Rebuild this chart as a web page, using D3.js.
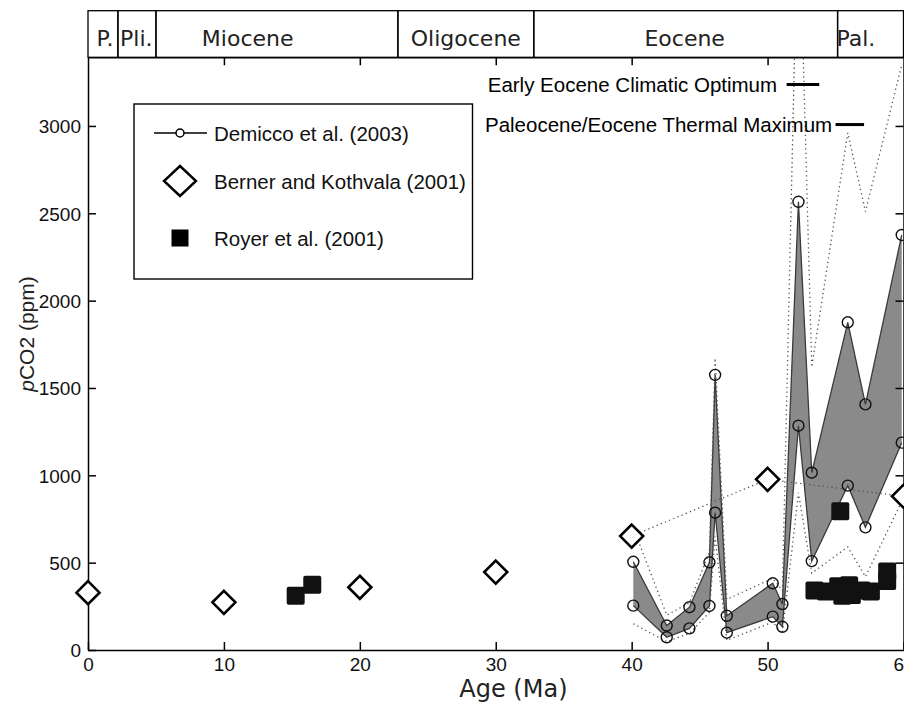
<!DOCTYPE html>
<html>
<head>
<meta charset="utf-8">
<script src="https://cdn.jsdelivr.net/npm/d3@7"></script>
<style>
  body { margin: 0; background: #fff; }
  svg { display: block; }
</style>
</head>
<body>
<div id="chart"></div>
<script>
// ---- data ----
var demiccoAge  = [40.12, 42.58, 44.25, 45.72, 46.14, 47.0, 50.38, 51.09, 52.27, 53.25, 55.9, 57.2, 59.87];
var demiccoHigh = [505, 140, 245, 502, 1575, 196, 382, 263, 2566, 1015, 1876, 1406, 2376];
var demiccoLow  = [254, 73, 124, 252, 786, 99, 191, 133, 1284, 509, 941, 702, 1187];
var envelopeHigh = [700, 200, 270, 560, 1670, 290, 410, 340, 4400, 1620, 2960, 2510, 3350];
var envelopeLow  = [150, 48, 95, 215, 650, 55, 160, 95, 900, 440, 590, 420, 850];

var bernerAge = [0, 10, 20, 30, 40, 50, 60];
var bernerCO2 = [328, 273, 359, 446, 652, 977, 880];

var royerAge = [15.28, 16.5, 55.35, 53.45, 54.3, 55.2, 55.5, 56.0, 56.2, 56.9, 57.6, 58.8, 58.8];
var royerCO2 = [310, 374, 795, 340, 335, 365, 310, 370, 315, 340, 335, 450, 395];

var epochNames    = ["P.", "Pli.", "Miocene", "Oligocene", "Eocene", "Pal."];
var epochStart    = [0, 2.2, 5.0, 22.8, 32.8, 55.15];
var epochEnd      = [2.2, 5.0, 22.8, 32.8, 55.15, 60];
var epochLabelAge = [1.25, 3.55, 11.75, 27.8, 43.9, 56.5];

var eventNames    = ["Early Eocene Climatic Optimum", "Paleocene/Eocene Thermal Maximum"];
var eventStart    = [51.4, 55.0];
var eventEnd      = [53.8, 57.1];
var eventLabelEnd = [50.7, 54.75];
var eventCO2      = [3237, 3008];

var xTicks = [0, 10, 20, 30, 40, 50, 60];
var yTicks = [0, 500, 1000, 1500, 2000, 2500, 3000];

var legendNames = ["Demicco et al. (2003)", "Berner and Kothvala (2001)", "Royer et al. (2001)"];

// ---- setup ----
var W = 904, H = 704;
var margin = { top: 57.3, left: 88, right: 0.5, bottom: 54 };
var svg = d3.select("#chart").append("svg").attr("width", W).attr("height", H);

var x = d3.scaleLinear().domain([0, 60]).range([margin.left, W - margin.right]);
var y = d3.scaleLinear().domain([0, 3393]).range([H - margin.bottom, margin.top]);

var sans = "'Liberation Sans', Arial, sans-serif";
var geo = "'DejaVu Sans', sans-serif";

svg.append("clipPath").attr("id", "plotClip")
  .append("rect")
  .attr("x", x(0)).attr("y", y(3393))
  .attr("width", x(60) - x(0)).attr("height", y(0) - y(3393));

var plot = svg.append("g").attr("clip-path", "url(#plotClip)");

// build row tables from arrays
var demicco = demiccoAge.map(function(a, i) {
  return { age: a, hi: demiccoHigh[i], lo: demiccoLow[i], eh: envelopeHigh[i], el: envelopeLow[i] };
});
var berner = bernerAge.map(function(a, i) { return { age: a, co2: bernerCO2[i] }; });
var royer = royerAge.map(function(a, i) { return { age: a, co2: royerCO2[i] }; });

// shaded Demicco band
var band = d3.area().x(d => x(d.age)).y0(d => y(d.lo)).y1(d => y(d.hi));
plot.append("path").datum(demicco)
  .attr("d", band)
  .style("fill", "#8a8a8a")
  .style("stroke", "none");

["hi", "lo"].forEach(function(k) {
  plot.append("path").datum(demicco)
    .attr("d", d3.line().x(d => x(d.age)).y(d => y(d[k])))
    .style("fill", "none")
    .style("stroke", "#3a3a3a")
    .style("stroke-width", 1.3);
});

// dotted envelopes
["eh", "el"].forEach(function(k) {
  plot.append("path").datum(demicco)
    .attr("d", d3.line().x(d => x(d.age)).y(d => y(d[k])))
    .style("fill", "none")
    .style("stroke", "#555")
    .style("stroke-width", 1.3)
    .style("stroke-dasharray", "1.3,3.2");
});

// dotted Berner link over the Eocene part
plot.append("path").datum(berner.filter(d => d.age >= 40))
  .attr("d", d3.line().x(d => x(d.age)).y(d => y(d.co2)))
  .style("fill", "none")
  .style("stroke", "#555")
  .style("stroke-width", 1.3)
  .style("stroke-dasharray", "1.3,3.2");

// Demicco circles
["hi", "lo"].forEach(function(k) {
  plot.selectAll("circle." + k).data(demicco).enter().append("circle")
    .attr("class", k)
    .attr("cx", d => x(d.age)).attr("cy", d => y(d[k]))
    .attr("r", 5.5)
    .style("fill", "none")
    .style("stroke", "#111")
    .style("stroke-width", 1.4);
});

// Royer squares
var sq = 18;
plot.selectAll("rect.royer").data(royer).enter().append("rect")
  .attr("class", "royer")
  .attr("x", d => x(d.age) - sq / 2).attr("y", d => y(d.co2) - sq / 2)
  .attr("width", sq).attr("height", sq)
  .attr("rx", 2)
  .style("fill", "#111");

// event annotations
eventNames.forEach(function(name, i) {
  svg.append("line")
    .attr("x1", x(eventStart[i])).attr("x2", x(eventEnd[i]))
    .attr("y1", y(eventCO2[i])).attr("y2", y(eventCO2[i]))
    .style("stroke", "#000").style("stroke-width", 3);
  svg.append("text")
    .attr("x", x(eventLabelEnd[i])).attr("y", y(eventCO2[i]) + 7.5)
    .attr("text-anchor", "end")
    .style("font-family", sans).style("font-size", "20.5px")
    .text(name);
});

// ---- axes ----
var axisStyle = function(g) {
  g.selectAll(".domain").style("stroke", "#000").style("stroke-width", 1.5);
  g.selectAll(".tick line").style("stroke", "#000").style("stroke-width", 1.5);
  g.selectAll("text").style("font-family", sans).style("font-size", "19px").style("fill", "#111");
};

svg.append("g")
  .attr("transform", "translate(0," + y(0) + ")")
  .call(d3.axisBottom(x).tickValues(xTicks).tickSize(-8).tickSizeOuter(0).tickPadding(8))
  .call(axisStyle);

svg.append("g")
  .attr("transform", "translate(" + x(0) + ",0)")
  .call(d3.axisLeft(y).tickValues(yTicks).tickFormat(d3.format("d")).tickSize(-8).tickSizeOuter(0).tickPadding(7))
  .call(axisStyle)
  .selectAll("text").attr("dy", "0.36em");

svg.append("g")
  .attr("transform", "translate(0," + y(3393) + ")")
  .call(d3.axisTop(x).tickValues(xTicks.slice(1, 6)).tickSize(-8).tickSizeOuter(0).tickFormat(""))
  .call(axisStyle);

svg.append("g")
  .attr("transform", "translate(" + x(60) + ",0)")
  .call(d3.axisRight(y).tickValues(yTicks.slice(1)).tickSize(-8).tickSizeOuter(0).tickFormat(""))
  .call(axisStyle);

// Berner diamonds (drawn over the axes, not clipped)
var dm = 11.5;
svg.selectAll("path.berner").data(berner).enter().append("path")
  .attr("class", "berner")
  .attr("d", function(d) {
    var cx = x(d.age), cy = y(d.co2);
    return "M" + cx + "," + (cy - dm) + "L" + (cx + dm) + "," + cy + "L" + cx + "," + (cy + dm) + "L" + (cx - dm) + "," + cy + "Z";
  })
  .style("fill", "#fff")
  .style("stroke", "#000")
  .style("stroke-width", 2.6)
  .style("stroke-linejoin", "miter");

// axis titles
svg.append("text")
  .attr("x", x(31.3)).attr("y", 697)
  .attr("text-anchor", "middle")
  .style("font-family", geo).style("font-size", "24px").style("fill", "#222")
  .text("Age (Ma)");

var yl = svg.append("text")
  .attr("transform", "translate(34,334) rotate(-90)")
  .attr("text-anchor", "middle")
  .style("font-family", sans).style("font-size", "21px").style("fill", "#222");
yl.append("tspan").style("font-style", "italic").text("p");
yl.append("tspan").text("CO2 (ppm)");

// ---- epoch header ----
var headTop = 10.7;
var header = svg.append("g");
epochNames.forEach(function(name, i) {
  header.append("rect")
    .attr("x", x(epochStart[i])).attr("y", headTop)
    .attr("width", x(epochEnd[i]) - x(epochStart[i]))
    .attr("height", y(3393) - headTop)
    .style("fill", "none").style("stroke", "#000").style("stroke-width", 1.3);
  header.append("text")
    .attr("x", x(epochLabelAge[i])).attr("y", 46)
    .attr("text-anchor", "middle")
    .style("font-family", geo).style("font-size", "22px").style("fill", "#222")
    .text(name);
});

// ---- legend ----
var lg = svg.append("g");
lg.append("rect")
  .attr("x", 134).attr("y", 104).attr("width", 338.5).attr("height", 175)
  .style("fill", "#fff").style("stroke", "#000").style("stroke-width", 1.4);
var rowY = [133, 181, 238];
lg.append("line").attr("x1", 154).attr("x2", 207).attr("y1", rowY[0]).attr("y2", rowY[0])
  .style("stroke", "#000").style("stroke-width", 1.5);
lg.append("circle").attr("cx", 180).attr("cy", rowY[0]).attr("r", 4)
  .style("fill", "#fff").style("stroke", "#000").style("stroke-width", 1.5);
lg.append("path")
  .attr("d", "M180," + (rowY[1] - 15) + "L196," + rowY[1] + "L180," + (rowY[1] + 15) + "L164," + rowY[1] + "Z")
  .style("fill", "#fff").style("stroke", "#000").style("stroke-width", 2.4);
lg.append("rect").attr("x", 171.5).attr("y", rowY[2] - 8.5).attr("width", 17).attr("height", 17)
  .style("fill", "#000");
legendNames.forEach(function(name, i) {
  lg.append("text")
    .attr("x", 214).attr("y", rowY[i] + 7.5)
    .style("font-family", sans).style("font-size", "20.5px").style("fill", "#111")
    .text(name);
});
</script>
</body>
</html>
